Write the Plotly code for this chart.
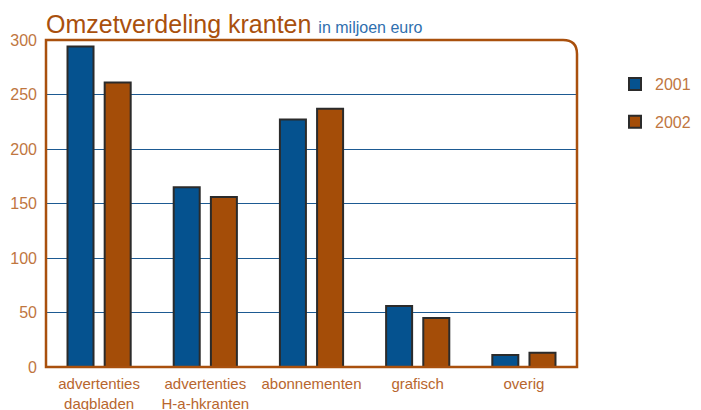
import plotly.graph_objects as go

categories = ["advertenties<br>dagbladen", "advertenties<br>H-a-hkranten", "abonnementen", "grafisch", "overig"]
values_2001 = [294, 165, 227, 56, 11]
values_2002 = [261, 156, 237, 45, 13]
y_ticks = [0, 50, 100, 150, 200, 250, 300]

BLUE = "#05528f"
BROWN = "#a44d08"
FRAME = "#a9500d"
LABEL = "#b8662e"
GRID = "#1d5a92"
FONT = "Liberation Sans Narrow, Liberation Sans, Arial, sans-serif"

fig = go.Figure()
fig.add_trace(go.Bar(x=categories, y=values_2001, name="2001", legendgroup="a",
                     marker=dict(color=BLUE, line=dict(color="#2b2b2b", width=2))))
fig.add_trace(go.Bar(x=categories, y=values_2002, name="2002", legendgroup="b",
                     marker=dict(color=BROWN, line=dict(color="#2b2b2b", width=2))))

r = 14
W, H = 531, 327
rx, ry = r / W, r / H
fig.add_shape(type="path", xref="paper", yref="paper",
              path=f"M 0,0 L 0,1 L {1-rx},1 Q 1,1 1,{1-ry} L 1,0 Z",
              line=dict(color=FRAME, width=2.5), fillcolor="rgba(0,0,0,0)", layer="above")

fig.update_layout(
    width=701, height=410,
    margin=dict(l=38, r=132, t=32, b=51, autoexpand=False),
    paper_bgcolor="white", plot_bgcolor="white",
    barmode="group", bargap=0.30, bargroupgap=0.30,
    font=dict(family=FONT, color=LABEL, size=15),
    title=dict(text="Omzetverdeling kranten <span style='font-size:16px;color:#2f6fae'>in miljoen euro</span>",
               font=dict(family=FONT, size=25, color="#a9500d"),
               xref="container", x=38 / 701, xanchor="left",
               yref="container", y=(410 - 25) / 410, yanchor="bottom",
               pad=dict(b=0, l=0, t=0, r=0)),
    showlegend=True,
    legend=dict(xref="container", yref="container", x=607 / 701, y=(410 - 59) / 410,
                xanchor="left", yanchor="top",
                font=dict(family=FONT, size=16, color="#c0763f"),
                traceorder="grouped", tracegroupgap=14, bgcolor="rgba(0,0,0,0)"),
    xaxis=dict(showgrid=False, showline=False, ticks="", ticklabelstandoff=6,
               tickfont=dict(size=15, color=LABEL)),
    yaxis=dict(range=[0, 300], tickvals=y_ticks, showgrid=True, gridcolor=GRID, gridwidth=1,
               zeroline=False, showline=False, ticks="", ticklabelstandoff=8,
               tickfont=dict(family="Liberation Sans, Arial, sans-serif", size=16, color="#c0763f")),
)

fig.write_html("out.html")
